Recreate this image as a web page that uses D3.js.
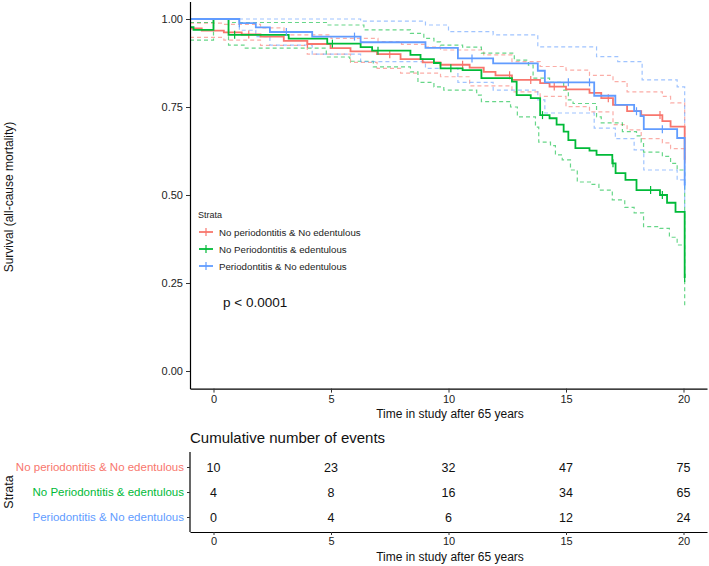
<!DOCTYPE html>
<html lang="en">
<head>
<meta charset="UTF-8">
<title>chart</title>
<style>
  body { margin: 0; background: #fff; }
  svg text { font-family: "Liberation Sans", Arial, sans-serif; }
</style>
</head>
<body>
<script src="https://cdn.jsdelivr.net/npm/d3@7"></script>
<script>
// strata and colours
const groups = ['No periodontitis & No edentulous', 'No Periodontitis & edentulous', 'Periodontitis & No edentulous'];
const colors = ['#F8766D', '#00BA38', '#619CFF'];

// survival estimates [time, S]
const redEst = [[-1,0.973],[-0.5,0.967],[0.44,0.962],[1.2,0.956],[2.0,0.95],[2.99,0.938],[3.99,0.929],[4.98,0.917],[5.83,0.908],[6.96,0.9],[7.96,0.886],[8.9,0.877],[9.66,0.87],[10.9,0.862],[11.5,0.85],[12.0,0.84],[12.7,0.827],[13.9,0.818],[14.3,0.808],[15.0,0.8],[16.0,0.79],[16.5,0.775],[17.0,0.756],[17.6,0.738],[18.2,0.727],[19.1,0.71],[19.45,0.694],[20.05,0.6]];
const redUp = [[-1,0.988],[0.44,0.985],[2.0,0.975],[3.0,0.955],[5.0,0.945],[7.0,0.936],[8.0,0.928],[9.0,0.92],[9.66,0.912],[11.5,0.898],[12.7,0.879],[13.9,0.865],[15.0,0.855],[16.0,0.84],[17.0,0.822],[17.6,0.793],[19.1,0.78],[19.45,0.762],[20.05,0.66]];
const redLo = [[-1,0.948],[0.44,0.94],[2.0,0.925],[3.99,0.9],[5.83,0.877],[6.96,0.86],[7.96,0.846],[9.66,0.836],[10.9,0.81],[12.7,0.793],[13.9,0.78],[15.0,0.751],[16.0,0.736],[17.0,0.7],[17.6,0.685],[18.2,0.66],[19.1,0.648],[19.45,0.632],[20.05,0.54]];

const greenEst = [[-1,0.977],[-0.85,0.969],[0,1.0],[0.64,0.955],[3.2,0.944],[4.84,0.93],[6.26,0.92],[6.75,0.91],[8.38,0.898],[8.81,0.886],[9.38,0.875],[9.66,0.86],[10.6,0.855],[11.4,0.832],[12.7,0.822],[12.9,0.784],[13.5,0.775],[13.9,0.727],[14.3,0.718],[14.6,0.7],[14.9,0.68],[15.1,0.656],[15.4,0.633],[16.0,0.626],[16.3,0.614],[16.97,0.59],[17.11,0.562],[17.53,0.543],[18.0,0.514],[19.0,0.5],[19.3,0.478],[19.66,0.452],[20.05,0.264]];
const greenUp = [[-1,0.99],[0,1.0],[0.64,0.99],[4.84,0.983],[6.4,0.969],[8.38,0.959],[8.95,0.945],[9.38,0.935],[9.66,0.926],[10.6,0.92],[11.4,0.903],[12.8,0.883],[13.4,0.869],[13.6,0.832],[14.3,0.82],[14.9,0.798],[15.1,0.77],[15.3,0.76],[16.3,0.722],[16.5,0.705],[17.4,0.68],[18.0,0.668],[18.2,0.65],[18.3,0.622],[19.1,0.61],[19.45,0.59],[19.73,0.571],[20.05,0.37]];
const greenLo = [[-1,0.94],[0,1.0],[0.64,0.926],[1.3,0.917],[4.8,0.892],[5.8,0.88],[6.8,0.864],[8.38,0.85],[8.7,0.82],[9.38,0.807],[9.8,0.798],[11.2,0.784],[11.4,0.765],[12.64,0.75],[12.93,0.722],[13.7,0.693],[13.84,0.65],[14.34,0.64],[14.55,0.614],[14.84,0.6],[15.19,0.571],[15.48,0.537],[16.04,0.53],[16.4,0.514],[16.97,0.486],[17.5,0.465],[17.9,0.449],[18.3,0.41],[19.0,0.405],[19.4,0.38],[19.73,0.358],[20.05,0.18]];

const blueEst = [[-1,1.0],[1.1,0.988],[1.8,0.976],[2.4,0.963],[4.2,0.95],[6.26,0.934],[9.02,0.918],[10.4,0.888],[11.9,0.874],[13.8,0.853],[14.1,0.82],[16.2,0.782],[17.1,0.756],[17.9,0.738],[18.17,0.724],[18.31,0.687],[19.73,0.662],[20.05,0.527]];
const blueUp = [[-1,1.0],[6.26,0.994],[9.02,0.983],[10.0,0.964],[11.9,0.955],[13.8,0.921],[16.3,0.893],[17.2,0.879],[18.24,0.827],[19.73,0.807],[20.05,0.62]];
const blueLo = [[-1,1.0],[1.1,0.968],[1.8,0.95],[2.4,0.926],[4.2,0.9],[6.26,0.879],[9.02,0.86],[10.4,0.82],[11.9,0.798],[13.8,0.77],[14.1,0.733],[16.2,0.69],[17.1,0.66],[17.9,0.628],[18.31,0.571],[19.73,0.543],[20.05,0.43]];

// censoring times
const redCens = [1.5, 4.0, 7.5, 10.6, 12.6, 13.5, 14.5, 16.8, 19.0, 20.05];
const greenCens = [0.9, 5.06, 7.0, 10.1, 14.0, 17.0, 18.6, 19.1, 20.05];
const blueCens = [1.1, 3.1, 6.0, 11.0, 15.1, 16.0, 18.0, 19.1, 20.05];

// risk table
const riskTimes = [0, 5, 10, 15, 20];
const cumEvents = [[10, 23, 32, 47, 75], [4, 8, 16, 34, 65], [0, 4, 6, 12, 24]];
const yTicks = [0, 0.25, 0.5, 0.75, 1];

const series = [
  { est: redEst, up: redUp, lo: redLo, cens: redCens },
  { est: greenEst, up: greenUp, lo: greenLo, cens: greenCens },
  { est: blueEst, up: blueUp, lo: blueLo, cens: blueCens }
];

const width = 709, height = 566;
const svg = d3.select('body').append('svg')
  .attr('width', width).attr('height', height);

const x = d3.scaleLinear().domain([-1, 21]).range([190, 707]);
const y = d3.scaleLinear().domain([-0.05, 1.05]).range([388.6, 1.4]);

const line = d3.line()
  .x(d => x(d[0])).y(d => y(d[1]))
  .curve(d3.curveStepAfter);

// value of a step curve at time t
function stepAt(data, t) {
  let v = data[0][1];
  data.forEach(d => { if (d[0] <= t) v = d[1]; });
  return v;
}

// confidence bands first, then the estimates
const plot = svg.append('g');
series.forEach((s, i) => {
  [s.up, s.lo].forEach(band => {
    plot.append('path')
      .attr('d', line(band))
      .attr('fill', 'none')
      .attr('stroke', colors[i])
      .attr('stroke-opacity', 0.6)
      .attr('stroke-width', 1.2)
      .attr('stroke-dasharray', '4,3');
  });
});
series.forEach((s, i) => {
  plot.append('path')
    .attr('d', line(s.est))
    .attr('fill', 'none')
    .attr('stroke', colors[i])
    .attr('stroke-width', 1.8);
  plot.selectAll(null)
    .data(s.cens)
    .enter()
    .append('line')
    .attr('x1', d => x(d)).attr('x2', d => x(d))
    .attr('y1', d => y(stepAt(s.est, d)) - 4)
    .attr('y2', d => y(stepAt(s.est, d)) + 4)
    .attr('stroke', colors[i])
    .attr('stroke-width', 1.2);
});

function styleAxis(g) {
  g.selectAll('path.domain').attr('stroke', '#000').attr('stroke-width', 1.2);
  g.selectAll('.tick line').attr('stroke', '#333');
  g.selectAll('.tick text').attr('fill', '#222').style('font-size', '11px')
    .style('font-family', '"Liberation Sans", Arial, sans-serif');
}

// axes of survival plot
svg.append('g')
  .attr('transform', 'translate(190,0)')
  .call(d3.axisLeft(y).tickValues(yTicks).tickFormat(d3.format('.2f')).tickSize(4).tickSizeOuter(0))
  .call(styleAxis);
svg.append('g')
  .attr('transform', 'translate(0,388.6)')
  .call(d3.axisBottom(x).tickValues(riskTimes).tickSize(4).tickSizeOuter(0).tickPadding(3))
  .call(styleAxis);

svg.append('text')
  .attr('transform', 'translate(13,197) rotate(-90)')
  .attr('text-anchor', 'middle')
  .style('font-size', '12px')
  .attr('fill', '#111')
  .text('Survival (all-cause mortality)');
svg.append('text')
  .attr('x', 450).attr('y', 418)
  .attr('text-anchor', 'middle')
  .style('font-size', '12px')
  .attr('fill', '#111')
  .text('Time in study after 65 years');

// legend
const legend = svg.append('g');
legend.append('text')
  .attr('x', 198).attr('y', 218)
  .style('font-size', '9px')
  .attr('fill', '#222')
  .text('Strata');
groups.forEach((g, i) => {
  const ly = 232 + i * 17;
  legend.append('line')
    .attr('x1', 199).attr('x2', 213).attr('y1', ly).attr('y2', ly)
    .attr('stroke', colors[i]).attr('stroke-width', 1.8);
  legend.append('line')
    .attr('x1', 206).attr('x2', 206).attr('y1', ly - 4).attr('y2', ly + 4)
    .attr('stroke', colors[i]).attr('stroke-width', 1.2);
  legend.append('text')
    .attr('x', 219).attr('y', ly + 3.5)
    .style('font-size', '9.7px')
    .attr('fill', '#222')
    .text(g);
});

svg.append('text')
  .attr('x', 223).attr('y', 307)
  .style('font-size', '13.5px')
  .attr('fill', '#111')
  .text('p < 0.0001');

// risk table
svg.append('text')
  .attr('x', 190).attr('y', 443)
  .style('font-size', '15px')
  .attr('fill', '#111')
  .text('Cumulative number of events');

const rowY = d3.scalePoint().domain(groups).range([467, 517]);

const tbl = svg.append('g');
cumEvents.forEach((row, i) => {
  tbl.selectAll(null)
    .data(row)
    .enter()
    .append('text')
    .attr('x', (d, j) => x(riskTimes[j]))
    .attr('y', rowY(groups[i]) + 4.5)
    .attr('text-anchor', 'middle')
    .style('font-size', '12.5px')
    .attr('fill', '#111')
    .text(d => d);
});

const rowAxis = svg.append('g')
  .attr('transform', 'translate(190,0)')
  .call(d3.axisLeft(rowY).tickSize(3).tickSizeOuter(0).tickPadding(3));
rowAxis.select('path.domain').attr('d', 'M0,452V532');
rowAxis.call(styleAxis);
rowAxis.selectAll('.tick text')
  .style('font-size', '11.5px')
  .attr('fill', (d, i) => colors[i]);

svg.append('g')
  .attr('transform', 'translate(0,532)')
  .call(d3.axisBottom(x).tickValues(riskTimes).tickSize(3).tickSizeOuter(0).tickPadding(2))
  .call(styleAxis);

svg.append('text')
  .attr('transform', 'translate(13,492) rotate(-90)')
  .attr('text-anchor', 'middle')
  .style('font-size', '12.5px')
  .attr('fill', '#111')
  .text('Strata');
svg.append('text')
  .attr('x', 450).attr('y', 561)
  .attr('text-anchor', 'middle')
  .style('font-size', '12px')
  .attr('fill', '#111')
  .text('Time in study after 65 years');
</script>
</body>
</html>
